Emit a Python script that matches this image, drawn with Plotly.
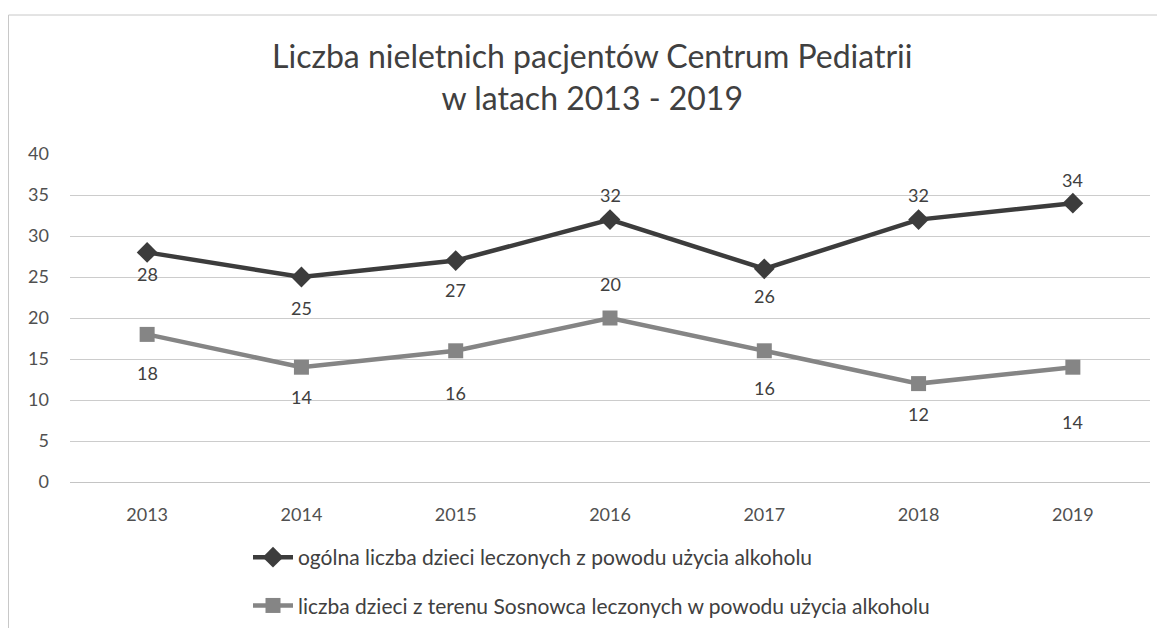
import plotly.graph_objects as go

years = ["2013", "2014", "2015", "2016", "2017", "2018", "2019"]
total_children = [28, 25, 27, 32, 26, 32, 34]
sosnowiec_children = [18, 14, 16, 20, 16, 12, 14]
name_total = "ogólna liczba dzieci leczonych z powodu użycia alkoholu"
name_sos = "liczba dzieci z terenu Sosnowca leczonych w powodu użycia alkoholu"
title = "Liczba nieletnich pacjentów Centrum Pediatrii<br>w latach 2013 - 2019"

# label offsets in pixels (styling, not data)
total_label_shift = [-22, -31, -29, 25, -27, 25, 23]
sos_label_shift = [-39, -30, -42, 34, -37, -30, -55]

FONT = "Lato, sans-serif"
C1 = "#3c3c3c"
C2 = "#858585"

fig = go.Figure()
fig.add_trace(go.Scatter(
    x=years, y=total_children, name=name_total, legendgroup="a",
    mode="lines+markers",
    line=dict(color=C1, width=4.5),
    marker=dict(symbol="diamond", size=16, color=C1),
))
fig.add_trace(go.Scatter(
    x=years, y=sosnowiec_children, name=name_sos, legendgroup="b",
    mode="lines+markers",
    line=dict(color=C2, width=4.5),
    marker=dict(symbol="square", size=15, color=C2),
))

annotations = []
for ys, shifts in [(total_children, total_label_shift),
                   (sosnowiec_children, sos_label_shift)]:
    for i, (y, s) in enumerate(zip(ys, shifts)):
        annotations.append(dict(x=i, y=y, xref="x", yref="y", text=str(y), showarrow=False,
                                yshift=s, font=dict(size=18, color="#404040", family=FONT)))

W, H = 1157, 620  # page body has an 8px margin
L, R, T, B = 62, 15, 146, 146
pw = W - L - R
ph = H - T - B
zero_y = H - B
fig.update_layout(
    width=W, height=H,
    margin=dict(l=L, r=R, t=T, b=B, autoexpand=False),
    paper_bgcolor="white", plot_bgcolor="white",
    font=dict(family=FONT, color="#404040"),
    title=dict(text=title, x=0.505, xanchor="center", y=1 - 60 / H, yanchor="top",
               font=dict(size=32, color="#404040", family=FONT)),
    xaxis=dict(type="category", range=[-0.5, 6.5], showgrid=False, showline=False,
               ticks="", tickfont=dict(size=18, color="#505050"), ticklabelstandoff=20),
    yaxis=dict(range=[0, 40], dtick=5, showgrid=True, gridcolor="#cccccc", gridwidth=1,
               zeroline=True, zerolinecolor="#c4c4c4", zerolinewidth=1, showline=False,
               ticks="", tickfont=dict(size=18, color="#505050"), ticklabelstandoff=20),
    showlegend=True,
    legend=dict(orientation="v", x=(240 - L) / pw, xanchor="left", y=(zero_y - 529) / ph, yanchor="top",
                font=dict(size=21, color="#404040", family=FONT), tracegroupgap=18,
                itemwidth=40, bgcolor="rgba(0,0,0,0)"),
    annotations=annotations,
    shapes=[dict(type="rect", xref="paper", yref="paper",
                 x0=(0.5 - L) / pw, x1=(1152 - L) / pw, y0=(zero_y - 640) / ph, y1=(zero_y - 7) / ph,
                 line=dict(color="#c8c8c8", width=1))],
)
fig.write_html("out.html")
